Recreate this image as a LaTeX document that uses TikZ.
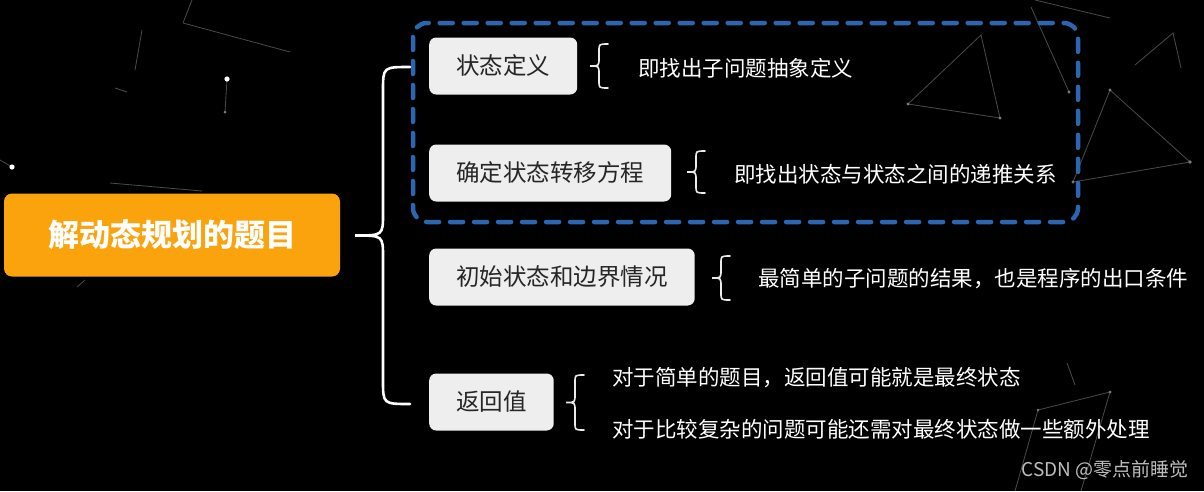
\documentclass[tikz,border=0pt]{standalone}
\usepackage{fontspec}
\setmainfont{Noto Sans CJK SC}
\definecolor{rootorange}{HTML}{FBA30C}
\definecolor{boxgray}{HTML}{EEEEEF}
\definecolor{boxtext}{HTML}{262626}
\definecolor{dashblue}{HTML}{2C66B0}
\definecolor{wmgray}{HTML}{BDBDBD}
\definecolor{starcol}{HTML}{4A4A4A}
\definecolor{stardotcol}{HTML}{7A7A7A}
\newcommand\dpbrace[8]{%
  \draw[#1] (#2,#5) .. controls (#3,#5) .. (#3,#5+#7)
    -- (#3,{(#5+#6)/2-#8}) .. controls (#3,{(#5+#6)/2}) .. (#4,{(#5+#6)/2})
    .. controls (#3,{(#5+#6)/2}) .. (#3,{(#5+#6)/2+#8})
    -- (#3,#6-#7) .. controls (#3,#6) .. (#2,#6);}
\begin{document}
\begin{tikzpicture}[x=1pt,y=-1pt,
  box/.style={rounded corners=7pt, fill=boxgray, text=boxtext, minimum height=57pt,
    inner xsep=27pt, inner ysep=0pt, font=\fontsize{23.5}{23.5}\selectfont, anchor=west},
  desc/.style={text=white, font=\fontsize{21.5}{21.5}\selectfont, anchor=west, inner sep=0pt},
  bracebig/.style={white, line width=2.6pt, line cap=round},
  bracesmall/.style={white!92!black, line width=1.6pt, line cap=round},
  starline/.style={draw=starcol, line width=0.8pt},
  stardot/.style={fill=stardotcol},
]
\fill[black] (0,0) rectangle (1204,491);
\useasboundingbox (0,0) rectangle (1204,491);

% faint background constellations
\draw[starline] (183,23) -- (290,52) (183,23) -- (192,0) (142,30) -- (135,70)
  (115,88) -- (127,92) (227,79) -- (225,112) (0,160) -- (12,167) (110,183) -- (202,191)
  (77,287) -- (85,280);
\draw[starline] (908,104) -- (981,35) -- (1000,118) -- cycle
  (1031,7) -- (1069,92) (1035,0) -- (1110,18)
  (1110,90) -- (1190,162) -- (1073,182) -- cycle
  (1135,65) -- (1173,33) -- (1181,68)
  (1038,410) -- (1110,392) (1038,410) -- (1015,491) (1110,392) -- (1081,491)
  (1067,363) -- (1075,385);
\fill[white] (227,79) circle (2.6pt) (12,167) circle (2.6pt);
\fill[stardot] (225,112) circle (1.5pt) (908,104) circle (1.6pt) (1000,118) circle (1.6pt)
  (1069,92) circle (1.6pt) (1110,90) circle (1.6pt) (1190,162) circle (1.8pt)
  (1073,182) circle (1.6pt) (1110,392) circle (1.5pt) (1038,410) circle (1.4pt);

% root
\node[rounded corners=8pt, fill=rootorange, text=white, minimum width=336pt,
  minimum height=83pt, inner sep=0pt, font=\fontsize{31}{31}\selectfont\bfseries]
  (root) at (172,235) {解动态规划的题目};

% dashed group
\draw[dashblue, line width=4.5pt, dash pattern=on 13pt off 11pt, line cap=round,
  rounded corners=14pt] (413,23) rectangle (1078,222);

% big brace
\dpbrace{bracebig}{410}{383}{355}{67}{404}{24}{22}

% boxes
\node[box] (b1) at (429,66) {状态定义};
\node[box] (b2) at (429,173) {确定状态转移方程};
\node[box] (b3) at (429,277) {初始状态和边界情况};
\node[box] (b4) at (429,402) {返回值};

% small braces
\dpbrace{bracesmall}{608}{599}{590}{44}{88}{7}{8}
\dpbrace{bracesmall}{705}{696}{687}{151}{193}{7}{8}
\dpbrace{bracesmall}{730}{721}{712}{256}{300}{7}{8}
\dpbrace{bracesmall}{584}{575}{566}{375}{430}{7}{8}

% descriptions
\node[desc] (d1) at (638,68) {即找出子问题抽象定义};
\node[desc] (d2) at (734,174) {即找出状态与状态之间的递推关系};
\node[desc] (d3) at (758,279) {最简单的子问题的结果，也是程序的出口条件};
\node[desc] (d4) at (612,378) {对于简单的题目，返回值可能就是最终状态};
\node[desc] (d5) at (612,429) {对于比较复杂的问题可能还需对最终状态做一些额外处理};

% watermark
\node[text=wmgray, anchor=east, inner sep=0pt, font=\fontsize{19}{19}\selectfont]
  (wm) at (1189,470) {CSDN @零点前睡觉};
\end{tikzpicture}
\end{document}
